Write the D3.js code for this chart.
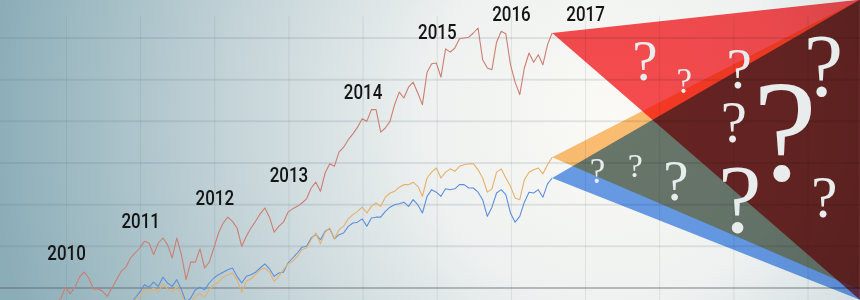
<!DOCTYPE html>
<html>
<head>
<meta charset="utf-8">
<script src="https://cdn.jsdelivr.net/npm/d3@7"></script>
<style>
  html, body { margin: 0; padding: 0; background: #fff; }
  svg { display: block; }
</style>
</head>
<body>
<svg id="chart" width="860" height="300"></svg>
<script>
// series sampled every 1/16 year
var step = 1 / 16;
var redStart = 2009.55;
var otherStart = 2010.8;

var redValues = [
  -36, -29, -24, -22, -25, -18, -12, 1, -7, 1, 13, 19, 12, -1, -1, -4, -10, 0, 10, 20,
  25, 36, 42, 48, 56, 54, 40, 54, 60, 52, 36, 60, 40, 10, 31, 31, 47, 24, 31, 48,
  66, 78, 85, 80, 72, 50, 62, 72, 80, 89, 96, 85, 67, 74, 79, 91, 95, 98, 102, 107,
  120, 127, 116, 138, 149, 146, 163, 169, 178, 185, 193, 203, 200, 214, 214, 187, 192, 200, 220, 235,
  228, 241, 247, 234, 220, 259, 269, 270, 253, 287, 283, 288, 299, 300, 301, 306, 312, 274, 264, 262,
  295, 308, 305, 268, 247, 232, 264, 282, 271, 280, 268, 292, 306
];

var orangeValues = [
  -29, -22, -14, -10, -2, -5, 0, -5, 5, -1, -5, 2, -8, -22, -17, -10, -7, -11, -2, 4,
  7, 13, 16, 18, 10, -5, 8, 11, 16, 22, 24, 19, 8, 14, 22, 29, 32, 38, 46, 48,
  58, 66, 53, 67, 72, 59, 70, 74, 83, 88, 92, 97, 90, 98, 102, 98, 109, 114, 116, 121,
  124, 124, 127, 122, 110, 132, 139, 144, 132, 139, 143, 140, 146, 148, 149, 149, 142, 132, 115, 119,
  139, 143, 132, 122, 108, 106, 130, 139, 142, 144, 137, 148, 157
];

var blueValues = [
  -26, -19, -12, -5, 4, 1, 7, 2, 13, 6, 2, 10, -2, -17, -12, -2, 1, -2, 6, 12,
  16, 19, 22, 24, 14, 6, 14, 16, 19, 24, 29, 23, 14, 18, 19, 30, 36, 42, 49, 50,
  60, 64, 58, 68, 71, 59, 64, 66, 74, 78, 79, 83, 74, 84, 85, 85, 92, 97, 100, 101,
  103, 98, 106, 100, 90, 110, 118, 115, 110, 119, 118, 119, 124, 124, 120, 120, 115, 106, 86, 97,
  114, 118, 112, 90, 79, 86, 103, 115, 114, 118, 109, 125, 132
];

// year labels and how high each sits
var labelYears = ['2010', '2011', '2012', '2013', '2014', '2015', '2016', '2017'];
var labelLevels = [34, 72, 100, 127, 227, 299, 320, 320];

// fans out of the last point, to the right edge
var fanEnd = 2020.7;
var fanTop = 346;
var redFanBottom = -14;
var orangeFanBottom = -2;
var blueFanBottom = -14;

// question marks: year, level, size
var qYears = [2017.80, 2018.33, 2019.07, 2020.21, 2019.69, 2019.00, 2019.08, 2020.22, 2017.16, 2017.67, 2018.22];
var qLevels = [250, 234, 240, 232, 130, 175, 67, 85, 126, 133, 106];
var qSizes = [57, 35, 57, 88, 144, 59, 98, 59, 35, 34, 57];

var W = 860, H = 300;
var x = d3.scaleLinear().domain([2010, 2020]).range([66.5, 808]);
var y = d3.scaleLinear().domain([0, 300]).range([288, 38]);

var svg = d3.select('#chart');

// background
var grad = svg.append('defs').append('radialGradient')
  .attr('id', 'bg').attr('gradientUnits', 'userSpaceOnUse')
  .attr('cx', 610).attr('cy', 120).attr('r', 620);
[[0, '#fbfaf5'], [0.3, '#eef1f0'], [0.6, '#c6d5d9'], [1, '#8badb8']].forEach(function(s) {
  grad.append('stop').attr('offset', s[0]).attr('stop-color', s[1]);
});
svg.append('rect').attr('width', W).attr('height', H).attr('fill', 'url(#bg)');

// grid
var grid = svg.append('g');
grid.selectAll('.hline').data(y.ticks(6).filter(d => d > 0)).enter()
  .append('line').attr('class', 'hline')
  .attr('x1', 0).attr('x2', W)
  .attr('y1', d => y(d)).attr('y2', d => y(d))
  .attr('stroke', 'rgba(90,110,130,0.15)').attr('stroke-width', 2);
grid.selectAll('.vline').data(x.ticks(10)).enter()
  .append('line').attr('class', 'vline')
  .attr('x1', d => x(d)).attr('x2', d => x(d))
  .attr('y1', y(326)).attr('y2', H)
  .attr('stroke', 'rgba(90,110,125,0.14)').attr('stroke-width', 1);
grid.append('line')
  .attr('x1', 0).attr('x2', W).attr('y1', y(0)).attr('y2', y(0))
  .attr('stroke', 'rgba(90,90,100,0.38)').attr('stroke-width', 2);

// series lines
function drawLine(values, start, color) {
  var line = d3.line().x((d, i) => x(start + i * step)).y(d => y(d));
  svg.append('path').datum(values)
    .attr('d', line)
    .attr('fill', 'none')
    .attr('stroke', color)
    .attr('stroke-width', 1.1)
    .attr('stroke-linejoin', 'round');
}
drawLine(blueValues, otherStart, '#5d8fda');
drawLine(orangeValues, otherStart, '#e6b06a');
drawLine(redValues, redStart, '#cd7e72');

// fans
function drawFan(values, start, bottom, color) {
  var last = values.length - 1;
  var pts = [[start + last * step, values[last]], [fanEnd, fanTop], [fanEnd, bottom]];
  var line = d3.line().x(d => x(d[0])).y(d => y(d[1]));
  svg.append('path')
    .attr('d', line(pts) + 'Z')
    .attr('fill', color)
    .style('mix-blend-mode', 'multiply');
}
drawFan(redValues, redStart, redFanBottom, '#fb4d51');
drawFan(orangeValues, otherStart, orangeFanBottom, '#ffc175');
drawFan(blueValues, otherStart, blueFanBottom, '#6a9fee');

// question marks
svg.append('g').selectAll('text').data(qYears).enter()
  .append('text')
  .attr('x', d => x(d))
  .attr('y', (d, i) => y(qLevels[i]))
  .attr('text-anchor', 'middle')
  .attr('font-family', '"Liberation Serif", "DejaVu Serif", serif')
  .attr('font-size', (d, i) => qSizes[i])
  .attr('fill', '#e8ecec')
  .text('?');

// year labels
svg.append('g').selectAll('text').data(labelYears).enter()
  .append('text')
  .attr('x', d => x(+d))
  .attr('y', (d, i) => y(labelLevels[i]))
  .attr('text-anchor', 'middle')
  .attr('font-family', 'Roboto, "DejaVu Sans", sans-serif')
  .attr('font-size', 20)
  .attr('font-weight', 500)
  .attr('textLength', 38.5)
  .attr('lengthAdjust', 'spacingAndGlyphs')
  .attr('fill', '#141414')
  .text(d => d);
</script>
</body>
</html>
